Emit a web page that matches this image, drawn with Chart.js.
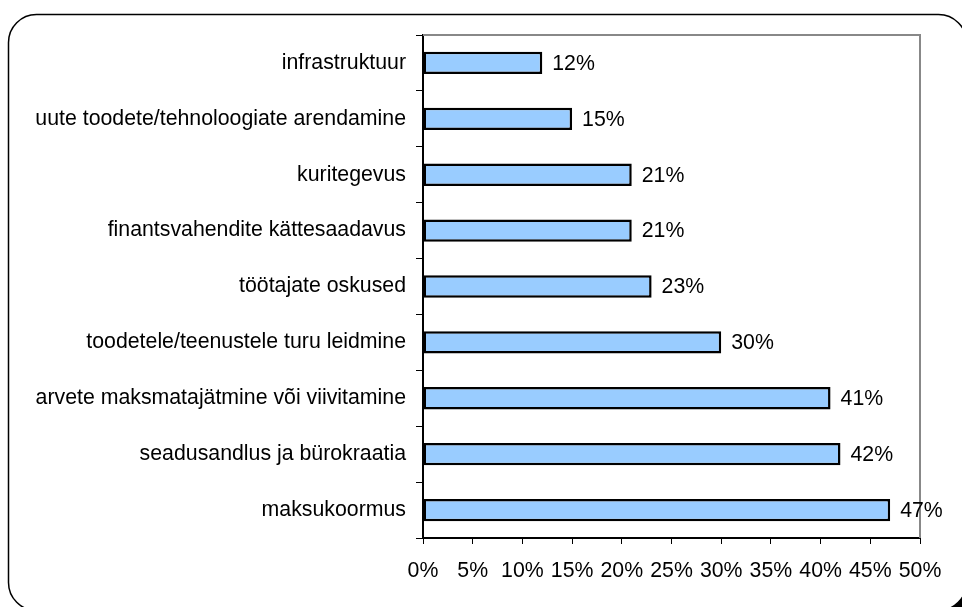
<!DOCTYPE html>
<html>
<head>
<meta charset="utf-8">
<script src="https://cdn.jsdelivr.net/npm/chart.js@4"></script>
<style>
    html, body { margin: 0; padding: 0; background: #fff; }
    #wrap { width: 962px; height: 607px; }
</style>
</head>
<body>
<div id="wrap"><canvas id="chart" width="962" height="607"></canvas></div>
<script>
const categories = [
    'infrastruktuur',
    'uute toodete/tehnoloogiate arendamine',
    'kuritegevus',
    'finantsvahendite kättesaadavus',
    'töötajate oskused',
    'toodetele/teenustele turu leidmine',
    'arvete maksmatajätmine või viivitamine',
    'seadusandlus ja bürokraatia',
    'maksukoormus'
];
const values = [12, 15, 21, 21, 23, 30, 41, 42, 47];
const xTicks = [0, 5, 10, 15, 20, 25, 30, 35, 40, 45, 50];

const FONT = '"Liberation Sans", Arial, sans-serif';
const FSIZE = 21.3;

// rounded frame around the whole picture + gray top/right plot border
const framePlugin = {
    id: 'frame',
    beforeDraw(chart) {
        const ctx = chart.ctx;
        ctx.save();
        ctx.fillStyle = '#fff';
        ctx.fillRect(0, 0, chart.width, chart.height);
        ctx.fillStyle = '#000';
        ctx.beginPath();
        ctx.roundRect(13, 19, 958, 596, 28);
        ctx.fill();
        ctx.fillStyle = '#fff';
        ctx.strokeStyle = '#000';
        ctx.lineWidth = 1.5;
        ctx.beginPath();
        ctx.roundRect(8.5, 14.5, 958, 596, 28);
        ctx.fill();
        ctx.stroke();
        ctx.restore();
    },
    afterDatasetsDraw(chart) {
        const { ctx, chartArea: a } = chart;
        ctx.save();
        ctx.strokeStyle = '#888';
        ctx.lineWidth = 2;
        ctx.beginPath();
        ctx.moveTo(a.left, a.top);
        ctx.lineTo(a.right, a.top);
        ctx.lineTo(a.right, a.bottom);
        ctx.stroke();
        ctx.restore();
    },
    afterDraw(chart) {
        const ctx = chart.ctx;
        const meta = chart.getDatasetMeta(0);
        ctx.save();
        ctx.font = FSIZE + 'px ' + FONT;
        ctx.fillStyle = '#000';
        ctx.textBaseline = 'middle';
        ctx.textAlign = 'left';
        meta.data.forEach((bar, i) => {
            ctx.fillText(values[i] + '%', bar.x + 10, bar.y + 1);
        });
        ctx.restore();
    }
};

new Chart(document.getElementById('chart'), {
    type: 'bar',
    data: {
        labels: categories,
        datasets: [{
            data: values,
            backgroundColor: '#99CCFF',
            borderColor: '#000',
            borderWidth: 2.5,
            borderSkipped: false,
            barPercentage: 0.4,
            categoryPercentage: 1
        }]
    },
    options: {
        indexAxis: 'y',
        responsive: false,
        animation: false,
        layout: { padding: { top: 35, right: 42, bottom: 0, left: 0 } },
        plugins: {
            legend: { display: false },
            tooltip: { enabled: false }
        },
        scales: {
            x: {
                min: 0,
                max: 50,
                afterBuildTicks(axis) {
                    axis.ticks = xTicks.map(v => ({ value: v }));
                },
                afterFit(axis) { axis.height = 69; },
                border: { color: '#000', width: 2 },
                grid: { drawOnChartArea: false, color: '#000', tickLength: 6, lineWidth: 1 },
                ticks: {
                    color: '#000',
                    padding: 14,
                    maxRotation: 0,
                    autoSkip: false,
                    font: { family: FONT, size: FSIZE },
                    callback: v => v + '%'
                }
            },
            y: {
                afterFit(axis) { axis.width = 423; },
                border: { color: '#000', width: 2 },
                grid: { drawOnChartArea: false, color: '#000', tickLength: 7, lineWidth: 1, offset: true },
                ticks: {
                    color: '#000',
                    padding: 10,
                    font: { family: FONT, size: FSIZE }
                }
            }
        }
    },
    plugins: [framePlugin]
});
</script>
</body>
</html>
